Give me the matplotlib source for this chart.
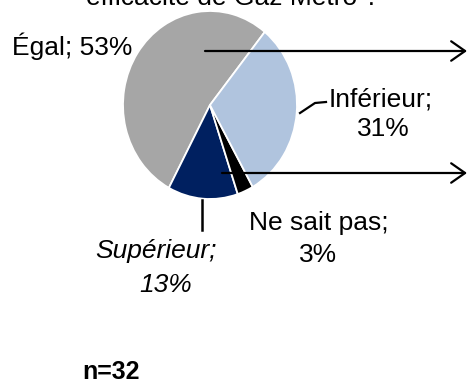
import matplotlib
matplotlib.use('Agg')
import matplotlib.pyplot as plt

plt.rcParams['font.family'] = ['Liberation Sans', 'DejaVu Sans']

# Répartition des réponses (ordre anti-horaire à partir de 51°)
categories = ['Égal', 'Supérieur', 'Ne sait pas', 'Inférieur']
valeurs = [53, 13, 3, 31]
couleurs = ['#a6a6a6', '#002060', '#000000', '#b0c4de']
titre = 'efficacité de Gaz Métro ?'
n_repondants = 32

W, H = 468, 384
fig = plt.figure(figsize=(W / 100, H / 100), dpi=100)

# camembert dans un axe légèrement étiré verticalement
cx, cy, rx, ry = 210, 105, 87, 94
ax_pie = fig.add_axes([(cx - rx) / W, (H - cy - ry) / H, 2 * rx / W, 2 * ry / H])
ax_pie.pie(valeurs, colors=couleurs, startangle=51, counterclock=True,
           wedgeprops=dict(edgecolor='white', linewidth=1.3))
ax_pie.set_xlim(-1, 1)
ax_pie.set_ylim(-1, 1)
ax_pie.set_aspect('auto')
ax_pie.axis('off')

# calque en pixels pour le texte et les traits
ax = fig.add_axes([0, 0, 1, 1], facecolor='none')
ax.set_xlim(0, W)
ax.set_ylim(H, 0)
ax.axis('off')

fs = 19
lab = dict(zip(categories, valeurs))

ax.text(233, 5, titre, fontsize=fs, ha='center', va='baseline')

ax.text(12, 55, f'Égal; {lab["Égal"]}%', fontsize=fs, ha='left', va='baseline')

ax.text(381, 106, 'Inférieur;', fontsize=fs, ha='center', va='baseline')
ax.text(383, 136, f'{lab["Inférieur"]}%', fontsize=fs, ha='center', va='baseline')
ax.plot([300, 315, 326], [113, 103, 102], color='black', lw=1.6)

ax.text(319, 230, 'Ne sait pas;', fontsize=fs, ha='center', va='baseline')
ax.text(318, 262, f'{lab["Ne sait pas"]}%', fontsize=fs, ha='center', va='baseline')

ax.text(156, 258, 'Supérieur;', fontsize=fs, ha='center', va='baseline', style='italic')
ax.text(166, 292, f'{lab["Supérieur"]}%', fontsize=fs, ha='center', va='baseline', style='italic')
ax.plot([201.5, 201.5], [200, 230], color='black', lw=1.8)

# flèches vers la droite
for y0, x0 in [(51, 205), (173, 222)]:
    ax.annotate('', xy=(467, y0), xytext=(x0, y0),
                arrowprops=dict(arrowstyle='->,head_length=1.0,head_width=0.7',
                                color='black', lw=1.6, shrinkA=0, shrinkB=0))

ax.text(82, 379, f'n={n_repondants}', fontsize=18, fontweight='bold', ha='left', va='baseline')

fig.savefig('out.png', dpi=100)
